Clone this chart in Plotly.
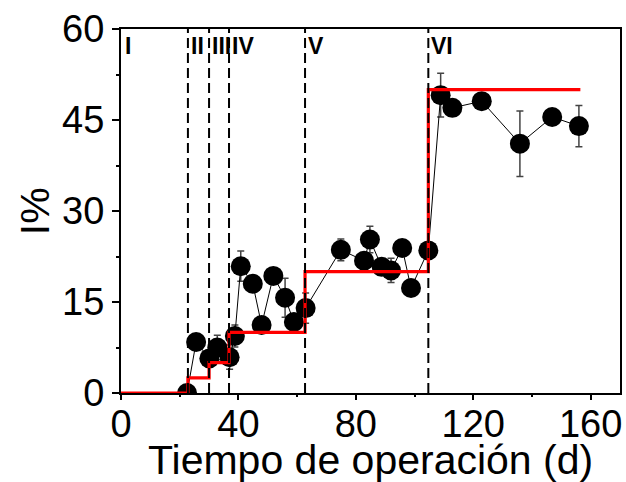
import plotly.graph_objects as go

# Measured I% over operation time (days), with standard deviations
dias = [22.5, 25.6, 30.1, 32.8, 37.0, 38.8, 40.8, 44.9, 47.9, 51.9, 55.9, 58.9, 62.9,
        74.9, 82.8, 84.8, 88.8, 92.0, 95.8, 98.8, 104.7, 108.9, 112.9, 122.9, 135.9, 146.9, 156.0]
inhibicion = [0.0, 8.4, 5.7, 7.5, 5.9, 9.4, 20.9, 18.0, 11.2, 19.3, 15.7, 11.7, 14.0,
              23.6, 21.8, 25.3, 20.8, 20.2, 23.9, 17.3, 23.5, 49.1, 47.0, 48.1, 41.1, 45.5, 44.0]
desv = [0.0, 0.5, 0.5, 2.0, 2.0, 1.8, 2.5, 0.5, 0.5, 0.5, 3.2, 0.5, 2.5,
        1.8, 0.8, 2.2, 0.8, 2.0, 0.5, 0.5, 0.5, 3.6, 0.8, 0.5, 5.4, 0.5, 3.4]

# Applied level per operating stage (step profile)
limites_etapa = [0.0, 22.8, 30.0, 36.8, 62.7, 104.7, 156.5]
nivel_etapa = [0.0, 2.5, 5.0, 10.0, 20.0, 50.0]
etapas = ["I", "II", "III", "IV", "V", "VI"]

x_ticks = [0, 40, 80, 120, 160]
x_minor = [20, 60, 100, 140]
y_ticks = [0, 15, 30, 45, 60]
y_minor = [7.5, 22.5, 37.5, 52.5]
X_RANGE = [0, 170]
Y_RANGE = [0, 60]

FONT = "Arial, Liberation Sans, sans-serif"

# Build the step polyline from the stage boundaries and levels
paso_x, paso_y = [], []
for i, nivel in enumerate(nivel_etapa):
    paso_x += [limites_etapa[i], limites_etapa[i + 1]]
    paso_y += [nivel, nivel]

fig = go.Figure()

fig.add_trace(go.Scatter(
    x=dias, y=inhibicion, mode="lines+markers",
    line=dict(color="black", width=1),
    marker=dict(color="black", size=20, symbol="circle"),
    error_y=dict(type="data", array=desv, visible=True,
                 color="#444444", thickness=1.5, width=3.5),
    showlegend=False,
))

# Step profile and stage separators live on an overlaid x axis with the same
# range; that axis carries the outward tick marks of the bottom edge.
fig.add_trace(go.Scatter(
    x=paso_x, y=paso_y, mode="lines", xaxis="x2",
    line=dict(color="#ff0000", width=3.2),
    showlegend=False,
))

for xb in limites_etapa[1:-1]:
    fig.add_trace(go.Scatter(
        x=[xb, xb], y=[0, 60], mode="lines", xaxis="x2",
        line=dict(color="black", width=2, dash="10px,5px"),
        showlegend=False, cliponaxis=False,
    ))

for etiqueta, xb in zip(etapas, limites_etapa[:-1]):
    fig.add_annotation(
        x=xb, y=1, xref="x", yref="paper",
        text="<b>%s</b>" % etiqueta, showarrow=False,
        xanchor="left", yanchor="top", xshift=1 if xb > 0 else 2, yshift=-2,
        font=dict(family=FONT, size=23, color="black"),
    )

# Axis titles
fig.add_annotation(
    x=0.5, y=-0.183, xref="paper", yref="paper",
    text="Tiempo de operación (d)", showarrow=False,
    xanchor="center", yanchor="middle",
    font=dict(family=FONT, size=41, color="black"),
)
fig.add_annotation(
    x=-0.172, y=0.5, xref="paper", yref="paper",
    text="I%", showarrow=False, textangle=-90,
    xanchor="center", yanchor="middle",
    font=dict(family=FONT, size=41, color="black"),
)

fig.update_layout(
    width=626, height=482,
    margin=dict(l=121, r=6, t=29, b=89),
    plot_bgcolor="white", paper_bgcolor="white",
    font=dict(family=FONT, color="black"),
    xaxis=dict(
        range=X_RANGE, tickvals=x_ticks,
        showgrid=False, zeroline=False, automargin=False,
        showline=True, linecolor="black", linewidth=2, mirror=True,
        ticks="", ticklabelstandoff=-4,
        tickfont=dict(family=FONT, size=38),
    ),
    xaxis2=dict(
        range=X_RANGE, tickvals=x_ticks, overlaying="x", side="bottom", anchor="y",
        showgrid=False, zeroline=False, automargin=False, showticklabels=False,
        showline=False,
        ticks="outside", ticklen=6, tickwidth=2, tickcolor="black",
        minor=dict(tickvals=x_minor, ticks="outside", ticklen=3,
                   tickwidth=2, tickcolor="black"),
    ),
    yaxis=dict(
        range=Y_RANGE, tickvals=y_ticks,
        showgrid=False, zeroline=False, automargin=False,
        showline=True, linecolor="black", linewidth=2, mirror=True,
        ticks="outside", ticklen=7, tickwidth=2, tickcolor="black",
        minor=dict(tickvals=y_minor, ticks="outside", ticklen=3,
                   tickwidth=2, tickcolor="black"),
        tickfont=dict(family=FONT, size=38),
    ),
)

fig.write_html("out.html")
